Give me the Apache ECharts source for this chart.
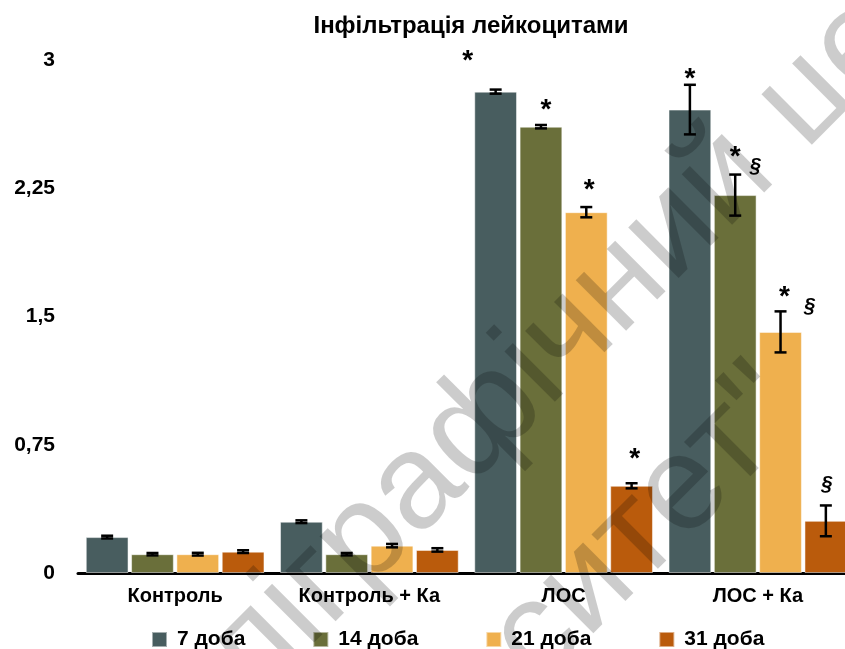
<!DOCTYPE html>
<html>
<head>
<meta charset="utf-8">
<script src="https://cdn.jsdelivr.net/npm/echarts@6/dist/echarts.min.js"></script>
<style>html,body{margin:0;padding:0;background:#fff}#c{width:845px;height:649px}</style>
</head>
<body>
<div id="c"></div>
<script>
const title = 'Інфільтрація лейкоцитами';
const categories = ['Контроль', 'Контроль + Ка', 'ЛОС', 'ЛОС + Ка'];
const seriesNames = ['7 доба', '14 доба', '21 доба', '31 доба'];
const d7 = [0.21, 0.30, 2.815, 2.71];
const d14 = [0.11, 0.11, 2.61, 2.21];
const d21 = [0.11, 0.16, 2.11, 1.41];
const d31 = [0.125, 0.135, 0.51, 0.305];
const e7 = [0.008, 0.008, 0.012, 0.145];
const e14 = [0.007, 0.007, 0.01, 0.12];
const e21 = [0.008, 0.01, 0.03, 0.12];
const e31 = [0.008, 0.01, 0.015, 0.09];
const star7 = ['', '', '*', '*'];
const star14 = ['', '', '*', '*'];
const star21 = ['', '', '*', '*'];
const star31 = ['', '', '*', ''];
const sect7 = ['', '', '', ''];
const sect14 = ['', '', '', '§'];
const sect21 = ['', '', '', '§'];
const sect31 = ['', '', '', '§'];
const yTicks = [0, 0.75, 1.5, 2.25, 3];
const watermark1a = 'Видавничо-';
const watermark1b = 'поліграфічний центр';
const watermark2 = 'Київський університет"';

const colors = ['#485D5F', '#6A6F3A', '#EFB04E', '#BA5B0C'];
const values = [d7, d14, d21, d31];
const errs = [e7, e14, e21, e31];
const stars = [star7, star14, star21, star31];
const sects = [sect7, sect14, sect21, sect31];
// marker pixel offsets relative to error-bar top (style only)
const starOff = [
  [[0,0],[0,0],[-28,-34],[0,-12]],
  [[0,0],[0,0],[5,-21],[0,-23]],
  [[0,0],[0,0],[3,-23],[4,-20]],
  [[0,0],[0,0],[3,-30],[0,0]]
];
const sectOff = [
  [[0,0],[0,0],[0,0],[0,0]],
  [[0,0],[0,0],[0,0],[20,-8]],
  [[0,0],[0,0],[0,0],[29,-5]],
  [[0,0],[0,0],[0,0],[1,-21]]
];

const FONT = '"Liberation Sans", Arial, sans-serif';
const CAT_GAP = 0.08, BAR_GAP = 0.06;

const errData = [];
for (let s = 0; s < 4; s++) {
  for (let c = 0; c < categories.length; c++) {
    errData.push([c, s, values[s][c], errs[s][c]]);
  }
}

const barSeries = seriesNames.map((name, s) => ({
  name: name,
  type: 'bar',
  data: values[s],
  barGap: (BAR_GAP * 100) + '%',
  barCategoryGap: (CAT_GAP * 100) + '%',
  itemStyle: { color: colors[s], borderColor: 'rgba(255,255,255,0.5)', borderWidth: 1 },
  z: 2
}));

const errSeries = {
  type: 'custom',
  data: errData,
  encode: { x: 0, y: 2 },
  clip: false,
  z: 5,
  silent: true,
  renderItem: function (params, api) {
    const c = api.value(0), s = api.value(1), v = api.value(2), e = api.value(3);
    const band = api.size([1, 0])[0];
    const n = 4;
    const bw = band * (1 - CAT_GAP) / (n + (n - 1) * BAR_GAP);
    const cx = api.coord([c, 0])[0] - band * (1 - CAT_GAP) / 2 + s * bw * (1 + BAR_GAP) + bw / 2;
    const yTop = api.coord([c, v + e])[1];
    const yBot = api.coord([c, v - e])[1];
    const cap = 6;
    const st = { stroke: '#000', lineWidth: 2.5 };
    const children = [
      { type: 'line', shape: { x1: cx, y1: yTop, x2: cx, y2: yBot }, style: st },
      { type: 'line', shape: { x1: cx - cap, y1: yTop, x2: cx + cap, y2: yTop }, style: st },
      { type: 'line', shape: { x1: cx - cap, y1: yBot, x2: cx + cap, y2: yBot }, style: st }
    ];
    const star = stars[s][c], sect = sects[s][c];
    if (star) {
      const o = starOff[s][c];
      children.push({ type: 'text', x: cx + o[0], y: yTop + o[1] + 6,
        style: { text: star, font: 'bold 28px ' + FONT, fill: '#000', align: 'center', verticalAlign: 'middle' } });
    }
    if (sect) {
      const o = sectOff[s][c];
      children.push({ type: 'text', x: cx + o[0], y: yTop + o[1],
        style: { text: sect, font: 'italic bold 20px ' + FONT, fill: '#000', align: 'center', verticalAlign: 'middle' } });
    }
    return { type: 'group', children: children };
  }
};

const chart = echarts.init(document.getElementById('c'), null, { renderer: 'canvas' });
chart.setOption({
  animation: false,
  backgroundColor: '#fff',
  title: {
    text: title, left: 466, top: 9, textAlign: 'center',
    textStyle: { fontFamily: FONT, fontSize: 24, fontWeight: 'bold', color: '#000' }
  },
  legend: {
    data: seriesNames, left: 151, top: 629, itemWidth: 15, itemHeight: 15, itemGap: 67,
    icon: 'rect', padding: 0,
    textStyle: { fontFamily: FONT, fontSize: 21, fontWeight: 'bold', color: '#000', padding: [0, 0, 0, 5] }
  },
  grid: { left: 78, width: 777, top: 60, bottom: 76, containLabel: false, outerBoundsMode: 'none' },
  xAxis: {
    type: 'category', data: categories,
    axisLine: { lineStyle: { color: '#000', width: 3 } },
    axisTick: { show: false },
    axisLabel: { fontFamily: FONT, fontSize: 20, fontWeight: 'bold', color: '#000', margin: 13, interval: 0 }
  },
  yAxis: {
    type: 'value', min: yTicks[0], max: yTicks[yTicks.length - 1], interval: yTicks[1] - yTicks[0],
    axisLine: { show: false }, axisTick: { show: false }, splitLine: { show: false },
    axisLabel: {
      fontFamily: FONT, fontSize: 21, fontWeight: 'bold', color: '#000', margin: 23,
      formatter: v => String(v).replace('.', ',')
    }
  },
  graphic: [
    { type: 'text', x: 123, y: 781, rotation: Math.PI / 4, z: 100, silent: true,
      style: { text: watermark1b, font: '135px ' + FONT, fill: 'rgba(0,0,0,0.2)', align: 'left', verticalAlign: 'middle' } },
    { type: 'text', x: 123, y: 781, rotation: Math.PI / 4, z: 100, silent: true,
      style: { text: watermark1a, font: '135px ' + FONT, fill: 'rgba(0,0,0,0.2)', align: 'right', verticalAlign: 'middle' } },
    { type: 'text', x: 784, y: 390, rotation: Math.PI / 4, z: 100, silent: true,
      style: { text: watermark2, font: '135px ' + FONT, fill: 'rgba(0,0,0,0.2)', align: 'right', verticalAlign: 'middle' } }
  ],
  series: barSeries.concat([errSeries])
});
</script>
</body>
</html>
